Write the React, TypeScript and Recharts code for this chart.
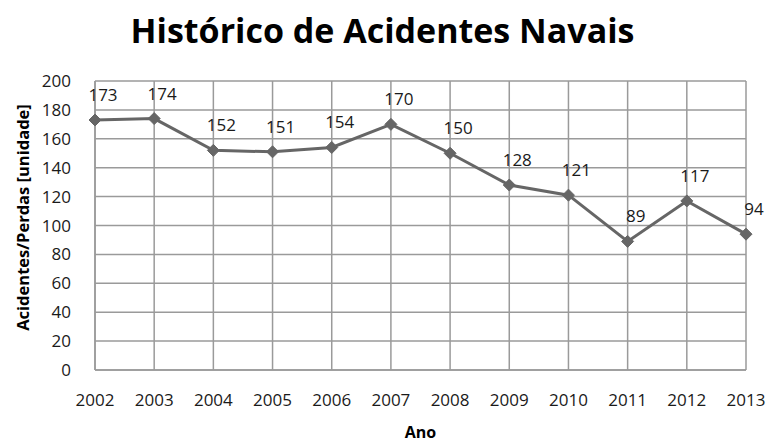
import React from "react";
import { LineChart, Line, XAxis, YAxis, CartesianGrid, LabelList, Label } from "recharts";

const years = ["2002", "2003", "2004", "2005", "2006", "2007", "2008", "2009", "2010", "2011", "2012", "2013"];
const accidents = [173, 174, 152, 151, 154, 170, 150, 128, 121, 89, 117, 94];
const yTicks = [0, 20, 40, 60, 80, 100, 120, 140, 160, 180, 200];

const data = years.map((y, i) => ({ year: y, value: accidents[i] }));

const FONT = "'Open Sans', sans-serif";

const Diamond = (props: any) => {
  const { cx, cy } = props;
  if (cx == null || cy == null) return null;
  const r = 6;
  return (
    <path
      d={`M${cx},${cy - r} L${cx + r},${cy} L${cx},${cy + r} L${cx - r},${cy} Z`}
      fill="#666666"
      stroke="#666666"
    />
  );
};

const YTitle = (props: any) => {
  const vb = props.viewBox || {};
  const x = 22;
  const y = (vb.y ?? 81) + (vb.height ?? 289) / 2 - 8;
  return (
    <text
      x={x}
      y={y}
      transform={`rotate(-90 ${x} ${y})`}
      textAnchor="middle"
      dominantBaseline="central"
      style={{ fill: "#000", fontSize: 16.5, fontWeight: 700, fontFamily: FONT }}
    >
      Acidentes/Perdas [unidade]
    </text>
  );
};

export default function App() {
  return (
    <div style={{ position: "absolute", left: 0, top: 0, width: 769, height: 444, background: "#fff" }}>
      <div
        style={{
          position: "absolute",
          left: 0,
          top: 10,
          width: 765,
          textAlign: "center",
          fontFamily: FONT,
          fontWeight: 700,
          fontSize: 34,
          lineHeight: "40px",
          color: "#000",
        }}
      >
        Histórico de Acidentes Navais
      </div>
      <LineChart
        width={769}
        height={444}
        data={data}
        margin={{ top: 81, right: 23, left: 0, bottom: 0 }}
        style={{ position: "absolute", left: 0, top: 0 }}
      >
        <CartesianGrid stroke="#9a9a9a" strokeWidth={1.5} />
        <XAxis
          dataKey="year"
          padding={{ left: 0, right: 0 }}
          tickLine={false}
          axisLine={{ stroke: "#9a9a9a", strokeWidth: 1.5 }}
          tick={{ fill: "#1a1a1a", fontSize: 17, fontFamily: FONT }}
          tickMargin={18}
          height={74}
          interval={0}
        >
          <Label
            value="Ano"
            position="insideBottom"
            offset={6}
            style={{ fill: "#000", fontSize: 16, fontWeight: 700, fontFamily: FONT }}
          />
        </XAxis>
        <YAxis
          domain={[0, 200]}
          ticks={yTicks}
          tickLine={false}
          axisLine={{ stroke: "#9a9a9a", strokeWidth: 1.5 }}
          tick={{ fill: "#1a1a1a", fontSize: 17, fontFamily: FONT }}
          tickMargin={18}
          width={95}
          interval={0}
        >
          <Label content={<YTitle />} />
        </YAxis>
        <Line
          type="linear"
          dataKey="value"
          stroke="#666666"
          strokeWidth={3}
          dot={<Diamond />}
          activeDot={false}
          isAnimationActive={false}
        >
          <LabelList
            dataKey="value"
            position="top"
            offset={19}
            dx={8}
            style={{ fill: "#1a1a1a", fontSize: 17, fontFamily: FONT }}
          />
        </Line>
      </LineChart>
    </div>
  );
}
